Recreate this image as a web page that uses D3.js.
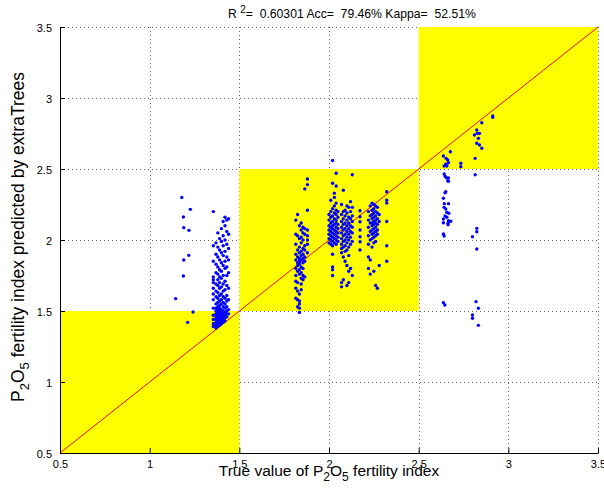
<!DOCTYPE html>
<html>
<head>
<meta charset="utf-8">
<script src="https://cdn.jsdelivr.net/npm/d3@7"></script>
<style>
  body { margin: 0; background: #fff; }
  text { font-family: "Liberation Sans", Arial, Helvetica, sans-serif; white-space: pre; }
</style>
</head>
<body>
<svg id="chart-root" width="604" height="491"></svg>
<script>

const chartRoot = d3.select('#chart-root');

const svgWidth = +chartRoot.attr('width');
const svgHeight = +chartRoot.attr('height');

// plot box (pixels)
const plotLeft = 60;
const plotRight = 598;
const plotTop = 27;
const plotBottom = 453;

//Ticks
const xTicks = [0.5, 1, 1.5, 2, 2.5, 3, 3.5];
const yTicks = [0.5, 1, 1.5, 2, 2.5, 3, 3.5];

// class intervals (yellow squares = correct class)
const classBounds = [[0.5, 1.5], [1.5, 2.5], [2.5, 3.5]];

// [true value, [predicted values...]]
const outliersLow = [
    [1.145, [1.587]],
    [1.179, [2.30]],
    [1.188, [2.162, 1.746]],
    [1.19, [2.087, 1.859]],
    [1.212, [1.42]],
    [1.218, [1.892]],
    [1.219, [2.068]],
    [1.227, [2.216]],
    [1.242, [1.493]]
];
const group14 = [
    [1.355, [2.20, 1.96, 1.85, 1.74, 1.72, 1.70, 1.66, 1.62, 1.58, 1.52, 1.47, 1.44, 1.41, 1.39]],
    [1.37, [1.98, 1.90, 1.83, 1.77, 1.69, 1.64, 1.60, 1.55, 1.52, 1.50, 1.48, 1.46, 1.44, 1.42, 1.40, 1.38]],
    [1.38, [2.05, 1.95, 1.88, 1.81, 1.76, 1.72, 1.68, 1.63, 1.59, 1.56, 1.53, 1.51, 1.49, 1.47, 1.45, 1.43, 1.41, 1.39]],
    [1.39, [2.01, 1.93, 1.86, 1.79, 1.74, 1.70, 1.66, 1.61, 1.57, 1.54, 1.52, 1.50, 1.48, 1.46, 1.44, 1.42, 1.40]],
    [1.40, [2.08, 1.99, 1.91, 1.84, 1.78, 1.73, 1.67, 1.62, 1.58, 1.55, 1.51, 1.49, 1.47, 1.45, 1.43, 1.41]],
    [1.41, [2.13, 2.03, 1.96, 1.89, 1.82, 1.75, 1.69, 1.64, 1.60, 1.56, 1.53, 1.50, 1.48, 1.46, 1.44, 1.42]],
    [1.42, [2.16, 2.10, 2.00, 1.92, 1.85, 1.80, 1.71, 1.65, 1.59, 1.55, 1.52, 1.49, 1.47, 1.45, 1.43]],
    [1.43, [2.14, 2.06, 1.97, 1.88, 1.81, 1.75, 1.68, 1.61, 1.57, 1.53, 1.50, 1.48, 1.46]],
    [1.44, [2.15, 2.04, 1.94, 1.86, 1.77, 1.66, 1.58, 1.51, 1.48]]
];
const group185 = [
    [1.815, [2.14, 2.04, 1.97, 1.90, 1.86, 1.80, 1.75, 1.71, 1.66, 1.59]],
    [1.825, [2.18, 2.03, 1.93, 1.88, 1.84, 1.82, 1.78, 1.70, 1.64, 1.58, 1.53]],
    [1.835, [2.10, 2.01, 1.95, 1.91, 1.87, 1.85, 1.83, 1.79, 1.76, 1.62, 1.57, 1.55, 1.52, 1.49]],
    [1.845, [2.12, 2.07, 2.02, 1.98, 1.92, 1.89, 1.86, 1.81, 1.77, 1.73, 1.69, 1.65]],
    [1.855, [2.09, 2.05, 2.00, 1.94, 1.90, 1.87, 1.84, 1.80, 1.75, 1.72]],
    [1.865, [2.36, 2.08, 2.04, 1.96, 1.93, 1.88, 1.85, 1.74]],
    [1.88, [2.43, 2.39, 2.21, 2.07, 2.03, 2.00, 1.97, 1.91]]
];
const group205 = [
    [2.00, [2.18, 2.14, 2.10, 2.07, 2.04, 2.01, 1.98]],
    [2.01, [2.28, 2.20, 2.16, 2.12, 2.09, 2.06, 2.03, 2.00, 1.97]],
    [2.02, [2.56, 2.40, 2.22, 2.17, 2.13, 2.10, 2.08, 2.05, 2.02, 1.99, 1.96, 1.90, 1.81, 1.79, 1.75]],
    [2.03, [2.33, 2.30, 2.24, 2.19, 2.15, 2.11, 2.07, 2.04, 2.01, 1.98]],
    [2.04, [2.47, 2.38, 2.26, 2.21, 2.18, 2.14, 2.12, 2.09, 2.06, 2.03, 2.00, 1.97]],
    [2.05, [2.20, 2.16, 2.11, 2.08, 2.05, 2.02, 1.99]]
];
const group21 = [
    [2.07, [2.25, 2.18, 2.13, 2.09, 2.05, 2.01, 1.97, 1.94, 1.91, 1.70, 1.67]],
    [2.08, [2.35, 2.20, 2.15, 2.11, 2.07, 2.03, 1.99, 1.95, 1.88, 1.72]],
    [2.09, [2.21, 2.17, 2.12, 2.08, 2.04, 2.00, 1.96, 1.92, 1.85]],
    [2.10, [2.24, 2.19, 2.14, 2.10, 2.06, 2.02, 1.98, 1.93, 1.82, 1.68]],
    [2.11, [2.23, 2.16, 2.12, 2.08, 2.04, 2.00, 1.95, 1.89, 1.78, 1.70]],
    [2.12, [2.27, 2.20, 2.15, 2.10, 2.06, 2.02, 1.97, 1.80]],
    [2.13, [2.46, 2.23, 2.17, 2.13, 2.09, 2.05, 1.99, 1.75]],
    [2.173, [2.206, 2.164, 2.129, 2.07, 2.023, 1.988, 1.93]]
];
const group225 = [
    [2.22, [2.20, 2.14, 2.09, 2.03, 1.97, 1.88, 1.80]],
    [2.23, [2.24, 2.17, 2.12, 2.06, 2.00, 1.86, 1.76]],
    [2.24, [2.26, 2.21, 2.18, 2.15, 2.12, 2.10, 2.07, 2.04, 2.01, 1.95]],
    [2.25, [2.25, 2.22, 2.19, 2.16, 2.13, 2.11, 2.08, 2.05, 2.02, 1.98, 1.78]],
    [2.26, [2.24, 2.20, 2.17, 2.14, 2.12, 2.09, 2.06, 2.03, 1.99, 1.68]],
    [2.27, [2.23, 2.19, 2.15, 2.11, 2.07, 2.04, 1.66]],
    [2.28, [2.18, 2.13, 1.82]],
    [2.322, [2.34, 2.28, 2.26, 2.13, 1.96, 1.85]]
];
const group265 = [
    [2.638, [2.592, 2.294, 2.148, 2.122, 2.042, 1.558]],
    [2.642, [2.521, 2.465, 2.23, 2.028]],
    [2.643, [2.256]],
    [2.646, [1.542]],
    [2.647, [2.45, 2.333, 2.169]],
    [2.651, [2.533, 2.34, 2.218]],
    [2.653, [2.575, 2.44]],
    [2.657, [2.521, 2.195, 2.16]],
    [2.662, [2.563, 2.418]],
    [2.664, [2.118, 2.108]],
    [2.666, [2.544, 2.437, 2.413, 2.256, 2.136]],
    [2.668, [2.188]],
    [2.677, [2.622]],
    [2.679, [2.132]],
    [2.735, [2.540, 2.516]]
];
const group28 = [
    [2.80, [2.023, 1.472, 1.449]],
    [2.811, [2.739]],
    [2.815, [2.575, 2.46]],
    [2.82, [1.566]],
    [2.824, [2.775, 2.681, 2.082, 2.058, 1.937]],
    [2.827, [2.751]],
    [2.833, [2.716, 1.519, 1.399]],
    [2.839, [2.751, 2.669]],
    [2.852, [2.826, 2.646]],
    [2.913, [2.873, 2.864]]
];

const toPairs = groups => groups.flatMap(([t, preds]) => preds.map(p => ({ t: t, p: p })));
const allPoints = [outliersLow, group14, group185, group205, group21, group225, group265, group28]
    .flatMap(toPairs);

//Scales
const xScale = d3.scaleLinear().domain([0.5, 3.5]).range([plotLeft, plotRight]);
const yScale = d3.scaleLinear().domain([0.5, 3.5]).range([plotBottom, plotTop]);

chartRoot.append('rect')
    .attr('width', svgWidth)
    .attr('height', svgHeight)
    .attr('fill', '#fff');

// dotted grid
const grid = chartRoot.append('g')
    .attr('stroke', '#666')
    .attr('stroke-width', 1)
    .attr('stroke-dasharray', '1,3')
    .attr('shape-rendering', 'crispEdges');
grid.selectAll('.gx').data(xTicks.slice(1)).enter().append('line')
    .attr('x1', d => Math.round(xScale(d)) + 0.5)
    .attr('x2', d => Math.round(xScale(d)) + 0.5)
    .attr('y1', plotTop)
    .attr('y2', plotBottom);
grid.selectAll('.gy').data(yTicks.slice(1)).enter().append('line')
    .attr('x1', plotLeft)
    .attr('x2', plotRight)
    .attr('y1', d => Math.round(yScale(d)) + 0.5)
    .attr('y2', d => Math.round(yScale(d)) + 0.5);

// yellow squares
chartRoot.append('g').selectAll('rect').data(classBounds).enter().append('rect')
    .attr('x', d => xScale(d[0]))
    .attr('y', d => yScale(d[1]))
    .attr('width', d => xScale(d[1]) - xScale(d[0]))
    .attr('height', d => yScale(d[0]) - yScale(d[1]))
    .attr('fill', '#ffff00');

// 1:1 line
chartRoot.append('line')
    .attr('x1', xScale(0.5))
    .attr('y1', yScale(0.5))
    .attr('x2', xScale(3.5))
    .attr('y2', yScale(3.5))
    .attr('stroke', '#ff0000')
    .attr('stroke-width', 1);

// points
chartRoot.append('g').selectAll('circle').data(allPoints).enter().append('circle')
    .attr('cx', d => xScale(d.t))
    .attr('cy', d => yScale(d.p))
    .attr('r', 1.7)
    .attr('fill', '#0000ff');

//Axes (ticks inward, like matlab)
const xAxis = d3.axisBottom(xScale)
    .tickValues(xTicks)
    .tickFormat(d => String(d))
    .tickSizeInner(-5)
    .tickSizeOuter(0)
    .tickPadding(8);
const yAxis = d3.axisLeft(yScale)
    .tickValues(yTicks)
    .tickFormat(d => String(d))
    .tickSizeInner(-5)
    .tickSizeOuter(0)
    .tickPadding(8);

const xAxisG = chartRoot.append('g')
    .attr('transform', `translate(0, ${plotBottom})`)
    .call(xAxis);
const yAxisG = chartRoot.append('g')
    .attr('transform', `translate(${plotLeft}, 0)`)
    .call(yAxis);

[xAxisG, yAxisG].forEach(g => {
    g.select('.domain').attr('stroke', '#000');
    g.selectAll('.tick line').attr('stroke', '#000');
    g.selectAll('.tick text')
        .attr('fill', '#000')
        .style('font-family', '"Liberation Sans", Arial, sans-serif')
        .style('font-size', '11px');
});
yAxisG.selectAll('.tick text').attr('dy', '0.45em');
xAxisG.selectAll('.tick text').attr('dy', '0.6em');

// title
const title = chartRoot.append('text')
    .attr('x', 228)
    .attr('y', 18)
    .style('font-size', '12.2px');
title.append('tspan').text('R ');
title.append('tspan').attr('dy', -5).style('font-size', '10px').text('2');
title.append('tspan').attr('dy', 5).text('=  0.60301 Acc=  79.46% Kappa=  52.51%');

// x label
const xLabel = chartRoot.append('text')
    .attr('x', (plotLeft + plotRight) / 2)
    .attr('y', 476)
    .attr('text-anchor', 'middle')
    .style('font-size', '15.5px');
xLabel.append('tspan').text('True value of P');
xLabel.append('tspan').attr('dy', 5).style('font-size', '12px').text('2');
xLabel.append('tspan').attr('dy', -5).text('O');
xLabel.append('tspan').attr('dy', 5).style('font-size', '12px').text('5');
xLabel.append('tspan').attr('dy', -5).text(' fertility index');

// y label
const yLabel = chartRoot.append('text')
    .attr('transform', `translate(24, ${(plotTop + plotBottom) / 2 - 3}) rotate(-90)`)
    .attr('text-anchor', 'middle')
    .style('font-size', '17.5px');
yLabel.append('tspan').text('P');
yLabel.append('tspan').attr('dy', 5).style('font-size', '13px').text('2');
yLabel.append('tspan').attr('dy', -5).text('O');
yLabel.append('tspan').attr('dy', 5).style('font-size', '13px').text('5');
yLabel.append('tspan').attr('dy', -5).text(' fertility index predicted by extraTrees');

</script>
</body>
</html>
